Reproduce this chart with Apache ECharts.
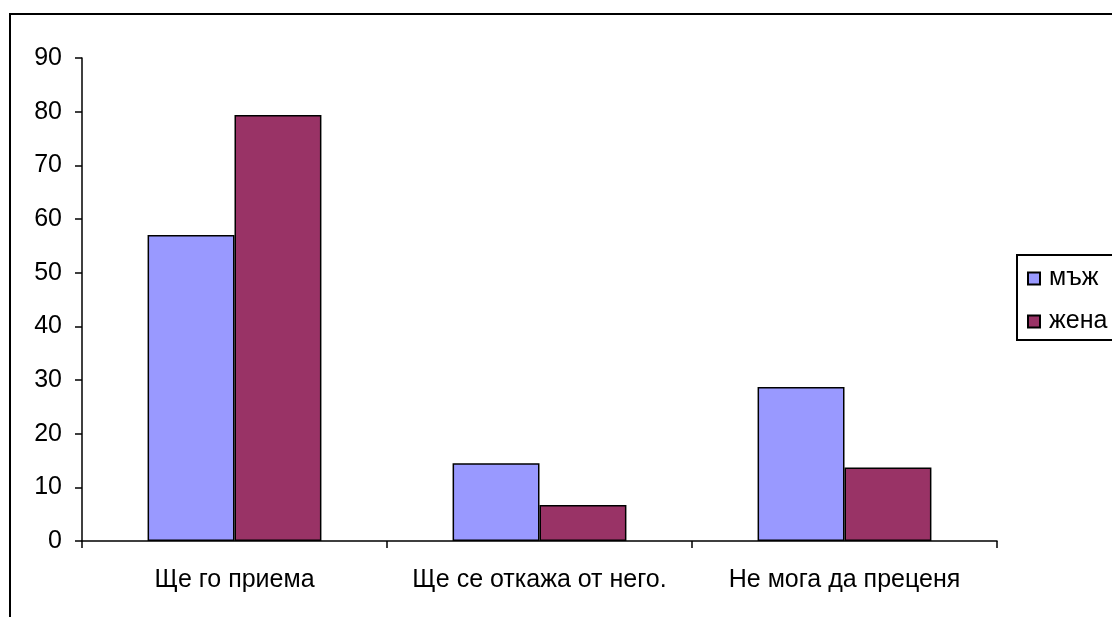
<!DOCTYPE html>
<html>
<head>
<meta charset="utf-8">
<script src="https://cdn.jsdelivr.net/npm/echarts@6/dist/echarts.min.js"></script>
<style>
  html, body { margin: 0; padding: 0; background: #fff; }
  #chart { width: 1112px; height: 617px; }
</style>
</head>
<body>
<div id="chart"></div>
<script>
// Survey answers by gender (percent)
var categories = ['Ще го приема', 'Ще се откажа от него.', 'Не мога да преценя'];
var seriesNames = ['мъж', 'жена'];
var menValues = [57.0, 14.5, 28.7];
var womenValues = [79.4, 6.7, 13.7];
var colors = ['#9999FF', '#993366'];

var chart = echarts.init(document.getElementById('chart'), null, { renderer: 'canvas' });
var font = 'Liberation Sans, Arial, sans-serif';

chart.setOption({
  animation: false,
  backgroundColor: '#ffffff',
  color: colors,
  textStyle: { fontFamily: font },
  graphic: [{
    type: 'rect',
    shape: { x: 10, y: 14, width: 1120, height: 640 },
    style: { fill: 'none', stroke: '#000', lineWidth: 2 },
    z: 100
  }],
  grid: { left: 82, right: 115, top: 58, bottom: 76, containLabel: false },
  legend: {
    orient: 'vertical',
    left: 1017,
    top: 255,
    padding: [11, 30, 6, 10],
    itemGap: 18,
    itemWidth: 12,
    itemHeight: 12,
    borderColor: '#000',
    borderWidth: 2,
    icon: 'rect',
    textStyle: { fontSize: 25, lineHeight: 25, color: '#000', fontFamily: font, padding: [0, 0, 0, 4] },
    data: seriesNames
  },
  xAxis: {
    type: 'category',
    data: categories,
    boundaryGap: true,
    axisLine: { lineStyle: { color: '#000', width: 1.5 } },
    axisTick: { show: true, interval: 0, alignWithLabel: false, length: 7, lineStyle: { color: '#000', width: 1.5 } },
    axisLabel: { color: '#000', fontSize: 25, margin: 27, interval: 0, fontFamily: font }
  },
  yAxis: {
    type: 'value',
    min: 0,
    max: 90,
    interval: 10,
    splitLine: { show: false },
    axisLine: { show: true, lineStyle: { color: '#000', width: 1.5 } },
    axisTick: { show: true, length: 7, lineStyle: { color: '#000', width: 1.5 } },
    axisLabel: { color: '#000', fontSize: 25, margin: 20, fontFamily: font }
  },
  series: [
    {
      name: seriesNames[0],
      type: 'bar',
      data: menValues,
      barGap: '0%',
      barCategoryGap: '43%',
      itemStyle: { color: colors[0], borderColor: '#000', borderWidth: 1.5 }
    },
    {
      name: seriesNames[1],
      type: 'bar',
      data: womenValues,
      barGap: '0%',
      barCategoryGap: '43%',
      itemStyle: { color: colors[1], borderColor: '#000', borderWidth: 1.5 }
    }
  ]
});
</script>
</body>
</html>
